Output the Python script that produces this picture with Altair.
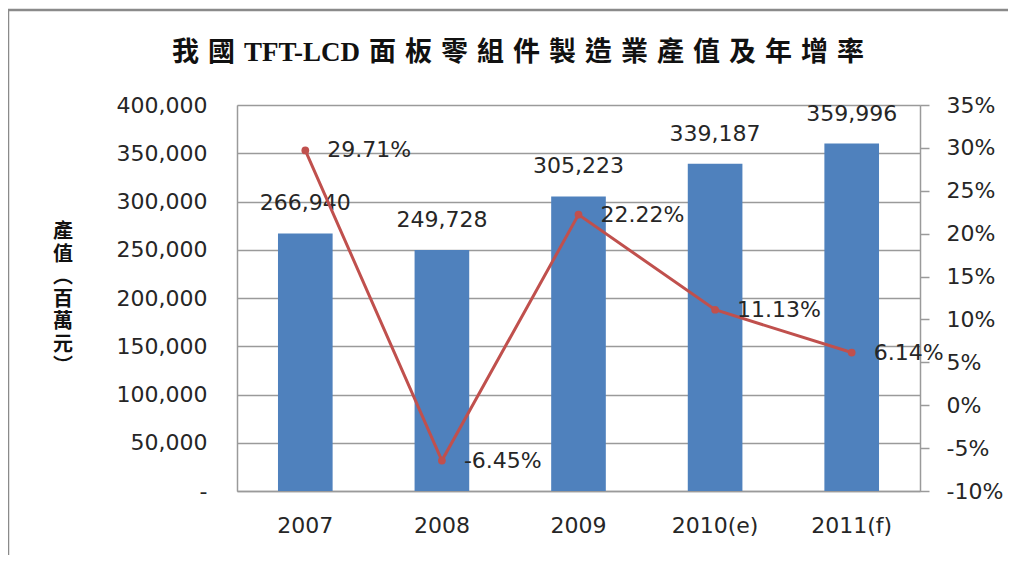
import altair as alt
import pandas as pd

years = ["2007", "2008", "2009", "2010(e)", "2011(f)"]
output_values = [266940, 249728, 305223, 339187, 359996]
growth_rates = [0.2971, -0.0645, 0.2222, 0.1113, 0.0614]
left_ticks = [0, 50000, 100000, 150000, 200000, 250000, 300000, 350000, 400000]
right_ticks = [-0.10, -0.05, 0.0, 0.05, 0.10, 0.15, 0.20, 0.25, 0.30, 0.35]
title_text = "我\u2004國\u2004TFT-LCD\u2004面\u2004板\u2004零\u2004組\u2004件\u2004製\u2004造\u2004業\u2004產\u2004值\u2004及\u2004年\u2004增\u2004率"
y_title_lines = ["產", "值", "︵", "百", "萬", "元", "︶"]

df = pd.DataFrame({"year": years, "value": output_values, "growth": growth_rates})

NUM_FONT = "DejaVu Sans"
TXT = "#262626"
GRID = "#9a9a9a"

x_enc = alt.X("year:N", sort=years,
              scale=alt.Scale(paddingInner=0.6, paddingOuter=0.3),
              axis=alt.Axis(title=None, labelAngle=0, ticks=False, labelPadding=24,
                            labelFont=NUM_FONT, labelFontSize=22, labelColor=TXT,
                            domainColor=GRID, domainWidth=1.5))

base = alt.Chart(df)

bars = base.mark_bar(color="#4F81BD").encode(
    x=x_enc,
    y=alt.Y("value:Q",
            scale=alt.Scale(domain=[0, 400000], nice=False),
            axis=alt.Axis(title=None, values=left_ticks, ticks=False, labelPadding=30,
                          labelExpr="datum.value == 0 ? '-' : format(datum.value, ',')",
                          labelFont=NUM_FONT, labelFontSize=22, labelColor=TXT,
                          grid=True, gridColor=GRID, gridWidth=1.5,
                          domainColor=GRID, domainWidth=1.5)),
)
bar_text = base.mark_text(baseline="bottom", dy=-18, font=NUM_FONT, fontSize=22, color=TXT).encode(
    x=alt.X("year:N", sort=years),
    y=alt.Y("value:Q"),
    text=alt.Text("value:Q", format=","),
)
bar_layer = alt.layer(bars, bar_text)

line = base.mark_line(color="#C0504D", strokeWidth=3).encode(
    x=alt.X("year:N", sort=years),
    y=alt.Y("growth:Q",
            scale=alt.Scale(domain=[-0.10, 0.35], nice=False),
            axis=alt.Axis(title=None, orient="right", values=right_ticks,
                          labelExpr="replace(format(datum.value, '.0%'), '\u2212', '-')",
                          tickSize=9, tickColor=GRID, tickWidth=1.5, labelPadding=17,
                          labelFont=NUM_FONT, labelFontSize=22, labelColor=TXT,
                          grid=False, domainColor=GRID, domainWidth=1.5)),
)
points = base.mark_point(color="#C0504D", filled=True, size=60, opacity=1).encode(
    x=alt.X("year:N", sort=years),
    y=alt.Y("growth:Q"),
)
line_text = base.transform_calculate(
    label="replace(format(datum.growth, '.2%'), '\u2212', '-')"
).mark_text(align="left", baseline="middle", dx=22, font=NUM_FONT,
            fontSize=22, color=TXT).encode(
    x=alt.X("year:N", sort=years),
    y=alt.Y("growth:Q"),
    text=alt.Text("label:N"),
)
line_layer = alt.layer(line, points, line_text)

single = alt.Chart(alt.Data(values=[{}]))
border_top = single.mark_rule(stroke="#8a8a8a", strokeWidth=2.5).encode(
    x=alt.value(-229), x2=alt.value(800), y=alt.value(-95))
border_left = single.mark_rule(stroke="#8a8a8a", strokeWidth=2.5).encode(
    x=alt.value(-229), y=alt.value(-95), y2=alt.value(470))
title = single.mark_text(align="center", baseline="middle",
                         font="Liberation Serif, Noto Sans CJK TC", fontSize=27,
                         fontWeight="bold", color="#111").encode(
    x=alt.value(281), y=alt.value(-52), text=alt.value(title_text))
y_title = single.mark_text(align="center", baseline="middle", lineHeight=22.5,
                           font="Noto Sans CJK TC", fontSize=20, fontWeight="bold",
                           color="#111").encode(
    x=alt.value(-174), y=alt.value(127), text=alt.value(y_title_lines))

chart = alt.layer(border_top, border_left, title, y_title, bar_layer, line_layer).resolve_scale(y="independent").properties(
    width=683, height=386,
    autosize=alt.AutoSizeParams(type="none"),
    padding={"left": 229, "top": 97, "right": 88, "bottom": 64},
).configure_view(stroke=None).configure(background="white")

chart.save("out.html", embed_options={"renderer": "svg", "actions": False})
